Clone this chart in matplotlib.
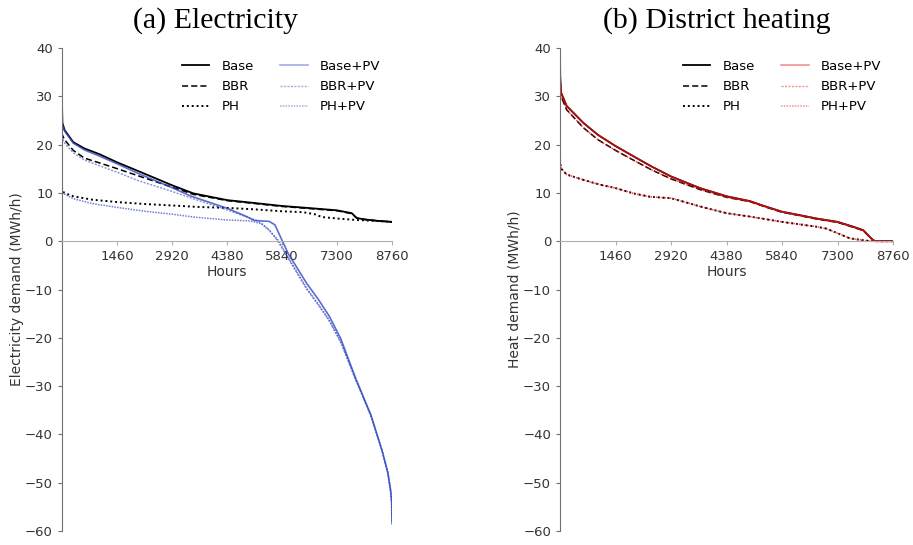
import matplotlib
matplotlib.use("Agg")
import matplotlib.pyplot as plt

# ---------------- data ----------------
# Electricity duration curves (hours, MWh/h)
el_base_h = [0, 10, 70, 300, 596, 1000, 1472, 2000, 2917, 3486, 4389, 5000, 5834, 6500, 7297, 7691, 7823, 8042, 8400, 8760]
el_base_v = [28.8, 24.5, 23.0, 20.5, 19.2, 18.0, 16.3, 14.6, 11.6, 9.9, 8.5, 8.0, 7.3, 6.9, 6.4, 5.8, 4.8, 4.5, 4.2, 4.0]

el_bbr_h = [0, 10, 70, 300, 596, 1000, 1472, 2000, 2917, 3486, 4389, 5000, 5834, 6500, 7297, 7691, 7823, 8042, 8400, 8760]
el_bbr_v = [22.5, 22.0, 21.0, 18.8, 17.2, 16.2, 15.0, 13.6, 11.2, 9.7, 8.4, 7.9, 7.2, 6.8, 6.3, 5.7, 4.8, 4.5, 4.2, 4.0]

el_ph_h = [0, 10, 60, 300, 800, 1460, 2200, 2920, 3600, 4380, 5100, 5840, 6400, 6700, 6900, 7300, 7800, 8300, 8760]
el_ph_v = [11.2, 10.5, 10.0, 9.3, 8.6, 8.1, 7.7, 7.4, 7.1, 6.9, 6.6, 6.2, 6.0, 5.6, 5.0, 4.7, 4.4, 4.2, 4.0]

el_basepv_h = [0, 10, 70, 300, 596, 1000, 1472, 2000, 2917, 3400, 4389, 4900, 5100, 5500, 5650, 5840, 6000, 6500, 6800, 7100, 7400, 7800, 8200, 8500, 8650, 8720, 8750, 8760]
el_basepv_v = [28.0, 24.0, 22.8, 20.3, 18.9, 17.6, 16.0, 14.1, 11.1, 9.4, 6.8, 5.1, 4.3, 4.1, 3.4, 0.2, -2.5, -8.8, -12.0, -15.6, -20.2, -28.5, -36.0, -43.5, -48.0, -51.5, -54.0, -58.5]

el_bbrpv_h = [0, 10, 70, 300, 600, 1000, 1460, 2000, 2920, 3400, 4380, 4800, 5200, 5500, 5700, 6000, 6500, 6800, 7100, 7400, 7800, 8200, 8500, 8650, 8720, 8750, 8760]
el_bbrpv_v = [21.8, 21.3, 20.3, 18.3, 16.8, 15.6, 14.3, 12.6, 10.3, 9.0, 6.5, 5.3, 4.2, 2.4, 0.3, -3.5, -10.0, -13.2, -16.6, -21.0, -28.8, -36.2, -43.5, -48.0, -51.5, -54.0, -58.0]

el_phpv_h = [0, 10, 60, 300, 800, 1460, 2200, 2920, 3500, 4380, 5000, 5300, 5500, 5750, 6000, 6500, 6800, 7100, 7400, 7800, 8200, 8500, 8650, 8720, 8750, 8760]
el_phpv_v = [10.8, 10.2, 9.8, 8.8, 7.8, 7.0, 6.2, 5.6, 5.0, 4.4, 4.2, 3.6, 2.2, 0.1, -3.3, -9.8, -13.0, -16.4, -20.8, -28.7, -36.1, -43.5, -48.0, -51.5, -54.0, -58.0]

# District heating duration curves (hours, MWh/h)
dh_base_h = [0, 5, 26, 175, 613, 1000, 1460, 1927, 2400, 2920, 3679, 4380, 4993, 5400, 5840, 6300, 6745, 7300, 7709, 7971, 8234, 8300, 8760]
dh_base_v = [39.0, 34.0, 30.8, 28.0, 24.5, 22.0, 19.7, 17.6, 15.5, 13.4, 11.0, 9.3, 8.3, 7.2, 6.1, 5.4, 4.7, 4.0, 3.0, 2.3, 0.2, 0.0, 0.0]

dh_bbr_h = [0, 5, 26, 175, 613, 1000, 1460, 1927, 2400, 2920, 3679, 4380, 4993, 5400, 5840, 6300, 6745, 7300, 7709, 7971, 8234, 8300, 8760]
dh_bbr_v = [37.0, 33.0, 30.0, 27.2, 23.5, 21.0, 18.8, 16.8, 14.8, 12.9, 10.7, 9.1, 8.2, 7.1, 6.0, 5.3, 4.6, 3.9, 2.9, 2.2, 0.2, 0.0, 0.0]

dh_ph_h = [0, 8, 35, 175, 613, 1051, 1460, 1927, 2365, 2920, 3241, 3679, 4380, 4993, 5840, 6745, 7008, 7315, 7621, 8059, 8400, 8760]
dh_ph_v = [17.0, 16.0, 15.0, 13.8, 12.7, 11.7, 11.0, 9.9, 9.2, 8.9, 8.2, 7.2, 5.8, 5.1, 4.0, 3.0, 2.6, 1.6, 0.6, 0.1, 0.0, 0.0]

labels_left = ["Base", "BBR", "PH"]
labels_right = ["Base+PV", "BBR+PV", "PH+PV"]
xticks = [1460, 2920, 4380, 5840, 7300, 8760]
yticks = list(range(-60, 41, 10))

# ---------------- plotting ----------------
blue = "#3448c0"
red = "#e01010"

fig = plt.figure(figsize=(9.13, 5.45), dpi=100)
axL = fig.add_axes([0.0679, 0.0257, 0.3615, 0.8862])
axR = fig.add_axes([0.6134, 0.0257, 0.3648, 0.8862])

FS = 9.5


def style(ax, ylabel, title, tx):
    ax.set_xlim(0, 8760)
    ax.set_ylim(-60, 40)
    ax.set_xticks(xticks)
    ax.set_yticks(yticks)
    ax.spines["top"].set_visible(False)
    ax.spines["right"].set_visible(False)
    ax.spines["bottom"].set_position(("data", 0))
    ax.spines["bottom"].set_color("#b0b0b0")
    ax.spines["left"].set_color("#707070")
    ax.tick_params(axis="both", labelsize=FS, length=3, width=0.8,
                   colors="#707070", labelcolor="#333333")
    ax.tick_params(axis="x", colors="#b0b0b0", labelcolor="#333333")
    ax.set_xlabel("Hours", fontsize=10, color="#333333", labelpad=1)
    ax.set_ylabel(ylabel, fontsize=10, color="#333333", labelpad=1)
    ax.set_title(title, fontsize=21.5, family="Liberation Serif", pad=15, x=tx)


def legend(ax, handles):
    leg = ax.legend(handles, labels_left + labels_right, ncol=2,
                    loc="upper right", frameon=False, fontsize=FS,
                    handlelength=2.1, handletextpad=0.9,
                    columnspacing=2.0, labelspacing=0.55,
                    bbox_to_anchor=(1.0, 1.0))
    for h in leg.legend_handles[3:]:
        h.set_alpha(0.45)
    return leg


# Left: electricity
l1, = axL.plot(el_base_h, el_base_v, color="black", lw=1.3, ls="-")
l2, = axL.plot(el_bbr_h, el_bbr_v, color="black", lw=1.1, ls=(0, (4, 2)))
l3, = axL.plot(el_ph_h, el_ph_v, color="black", lw=1.4, ls=(0, (1, 1.5)))
p1, = axL.plot(el_basepv_h, el_basepv_v, color=blue, lw=1.2, ls="-", alpha=0.8)
p2, = axL.plot(el_bbrpv_h, el_bbrpv_v, color=blue, lw=1.0, ls=(0, (1.5, 1)), alpha=0.6)
p3, = axL.plot(el_phpv_h, el_phpv_v, color=blue, lw=1.1, ls=(0, (1, 0.8)), alpha=0.7)
style(axL, "Electricity demand (MWh/h)", "(a) Electricity", 0.464)
legend(axL, [l1, l2, l3, p1, p2, p3])

# Right: district heating (PV does not change heat demand)
r1, = axR.plot(dh_base_h, dh_base_v, color="black", lw=1.3, ls="-")
r2, = axR.plot(dh_bbr_h, dh_bbr_v, color="black", lw=1.1, ls=(0, (4, 2)))
r3, = axR.plot(dh_ph_h, dh_ph_v, color="black", lw=1.4, ls=(0, (1, 1.5)))
q1, = axR.plot(dh_base_h, dh_base_v, color=red, lw=1.2, ls="-", alpha=0.8)
q2, = axR.plot(dh_bbr_h, dh_bbr_v, color=red, lw=1.0, ls=(0, (1.5, 1)), alpha=0.7)
q3, = axR.plot(dh_ph_h, dh_ph_v, color=red, lw=1.1, ls=(0, (1, 0.8)), alpha=0.75)
style(axR, "Heat demand (MWh/h)", "(b) District heating", 0.471)
legend(axR, [r1, r2, r3, q1, q2, q3])

fig.savefig("out.png", dpi=100)
